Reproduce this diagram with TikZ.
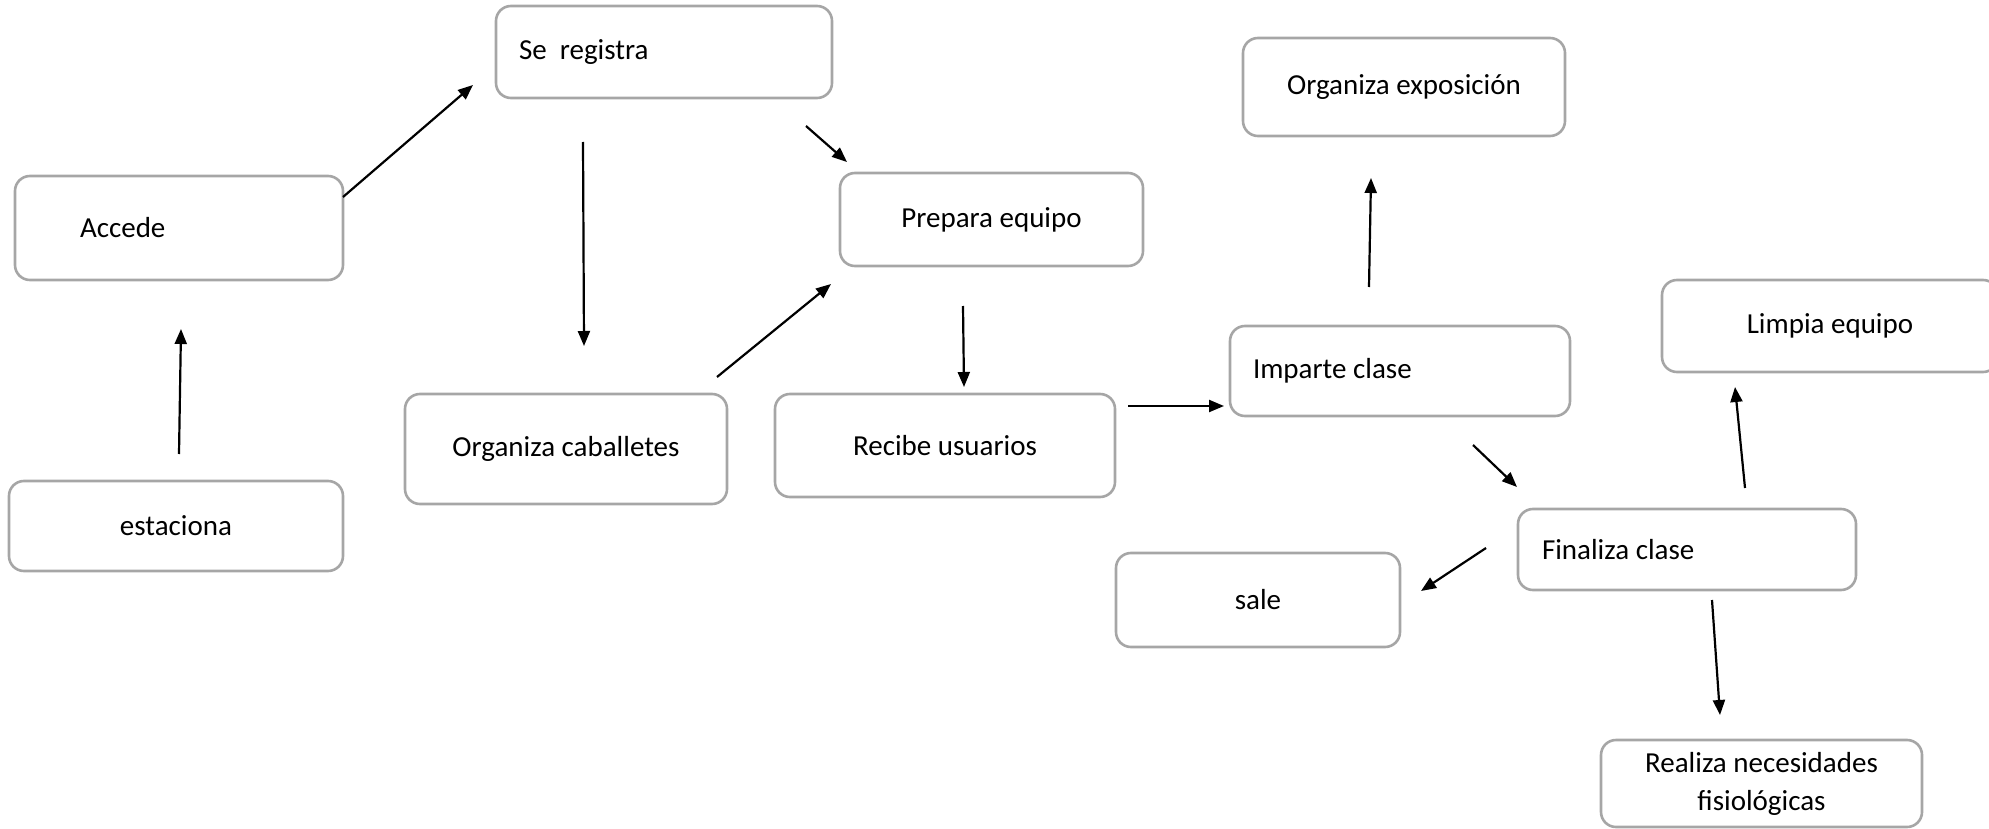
\documentclass[tikz,border=0pt]{standalone}
\usepackage{fontspec}
\setmainfont{Carlito}
\usetikzlibrary{arrows.meta}
\definecolor{boxgray}{RGB}{166,166,166}
\newcommand{\lefttext}[2]{\makebox[#1][l]{#2}}
\begin{document}
\begin{tikzpicture}[x=1pt,y=-1pt,
  box/.style={draw=boxgray, line width=2.6pt, rounded corners=15pt, inner sep=0pt,
    font=\fontsize{29}{38}\selectfont, align=center},
  arr/.style={line width=2.2pt, -{Triangle[length=15pt,width=12pt]}}]
\useasboundingbox (0,0) rectangle (1989,829);
\clip (0,0) rectangle (1989,829);
% boxes
\node[box, inner xsep=23pt, minimum height=92pt] (reg) at (664,52) {\lefttext{290pt}{Se\ \ registra}};
\node[box, inner xsep=65pt, minimum height=104pt] (acc) at (179,228) {\lefttext{198pt}{Accede}};
\node[box, minimum width=334pt, minimum height=90pt] (est) at (176,526) {estaciona};
\node[box, minimum width=322pt, minimum height=110pt] (cab) at (566,449) {Organiza caballetes};
\node[box, minimum width=303pt, minimum height=93pt] (prep) at (991.5,219.5) {Prepara equipo};
\node[box, minimum width=340pt, minimum height=103pt] (rec) at (945,445.5) {Recibe usuarios};
\node[box, minimum width=322pt, minimum height=98pt] (expo) at (1404,87) {Organiza exposición};
\node[box, inner xsep=23pt, minimum height=90pt] (imp) at (1400,371) {\lefttext{294pt}{Imparte clase}};
\node[box, minimum width=336pt, minimum height=92pt] (limp) at (1830,326) {Limpia equipo};
\node[box, inner xsep=24pt, minimum height=81pt] (fin) at (1687,549.5) {\lefttext{290pt}{Finaliza clase}};
\node[box, minimum width=284pt, minimum height=94pt] (sale) at (1258,600) {sale};
\node[box, minimum width=321pt, minimum height=87pt] (real) at (1761.5,783.5) {Realiza necesidades\\fisiológicas};
% connector end points
\coordinate (e1s) at (179,454);  \coordinate (e1e) at (181,329);
\coordinate (e2s) at (343,197);  \coordinate (e2e) at (473,85);
\coordinate (e3s) at (583,142);  \coordinate (e3e) at (584,346);
\coordinate (e4s) at (806,126);  \coordinate (e4e) at (847,162);
\coordinate (e5s) at (717,377);  \coordinate (e5e) at (831,284);
\coordinate (e6s) at (963,306);  \coordinate (e6e) at (964,387);
\coordinate (e7s) at (1128,406); \coordinate (e7e) at (1224,406);
\coordinate (e8s) at (1369,287); \coordinate (e8e) at (1371,178);
\coordinate (e9s) at (1473,445); \coordinate (e9e) at (1517,487);
\coordinate (e10s) at (1486,548); \coordinate (e10e) at (1421,591);
\coordinate (e11s) at (1745,488); \coordinate (e11e) at (1735,387);
\coordinate (e12s) at (1712,600); \coordinate (e12e) at (1720,715);
% connectors
\draw[arr] (e1s) -- (e1e);
\draw[arr] (e2s) -- (e2e);
\draw[arr] (e3s) -- (e3e);
\draw[arr] (e4s) -- (e4e);
\draw[arr] (e5s) -- (e5e);
\draw[arr] (e6s) -- (e6e);
\draw[arr] (e7s) -- (e7e);
\draw[arr] (e8s) -- (e8e);
\draw[arr] (e9s) -- (e9e);
\draw[arr] (e10s) -- (e10e);
\draw[arr] (e11s) -- (e11e);
\draw[arr] (e12s) -- (e12e);
\end{tikzpicture}
\end{document}
